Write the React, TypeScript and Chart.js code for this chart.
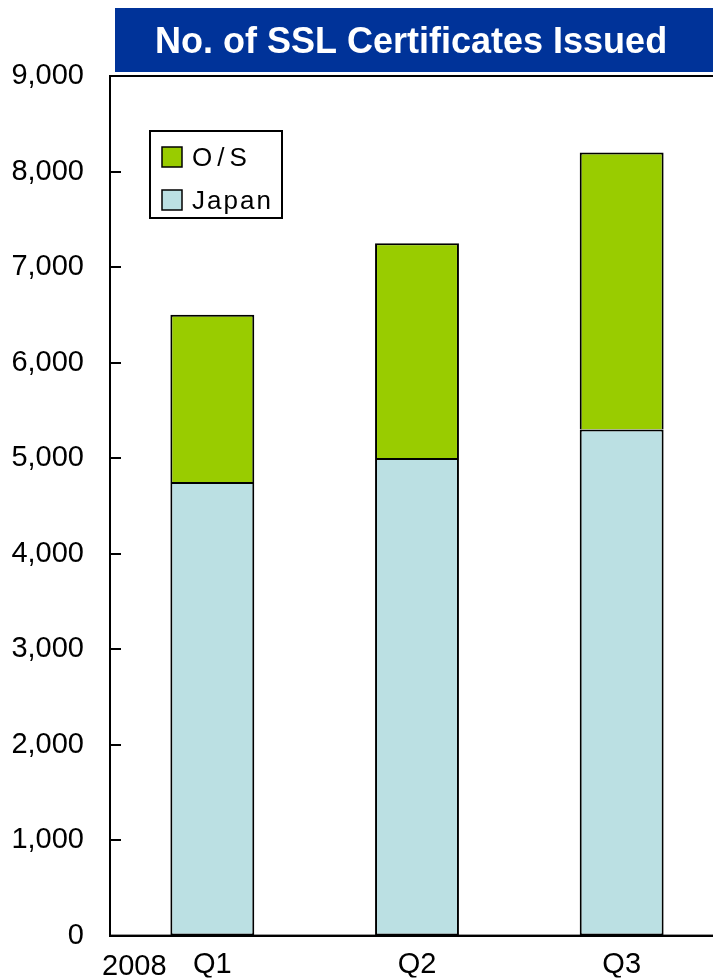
import React, { useEffect, useRef } from "react";
import { Chart, registerables } from "chart.js";

Chart.register(...registerables);

const categories = ["Q1", "Q2", "Q3"];
const japanValues = [4750, 5000, 5300];
const overseasValues = [1750, 2250, 2900];
const yTicks = [0, 1000, 2000, 3000, 4000, 5000, 6000, 7000, 8000, 9000];
const titleText = "No. of SSL Certificates Issued";
const yearLabel = "2008";
const seriesNames = ["O/S", "Japan"];

const GREEN = "#99CC00";
const BLUE = "#BBE0E3";
const NAVY = "#003399";
const FONT = "'Liberation Sans', Arial, sans-serif";

const decorPlugin = {
  id: "decor",
  afterDraw(chart: any) {
    const ctx = chart.ctx as CanvasRenderingContext2D;
    const area = chart.chartArea;
    const yScale = chart.scales.y;
    ctx.save();
    // frame
    ctx.strokeStyle = "#000";
    ctx.lineWidth = 2;
    ctx.strokeRect(area.left, area.top, area.right - area.left, area.bottom - area.top);
    // inner tick marks
    yTicks.forEach((v) => {
      const y = Math.round(yScale.getPixelForValue(v));
      ctx.beginPath();
      ctx.moveTo(area.left, y);
      ctx.lineTo(area.left + 11, y);
      ctx.stroke();
    });
    // title box
    ctx.fillStyle = NAVY;
    ctx.fillRect(115, 8, chart.width - 115, 64);
    ctx.fillStyle = "#fff";
    ctx.font = `bold 36px ${FONT}`;
    ctx.textAlign = "left";
    ctx.textBaseline = "alphabetic";
    ctx.fillText(titleText, 155, 53);
    // year label
    ctx.fillStyle = "#000";
    ctx.font = `29px ${FONT}`;
    ctx.fillText(yearLabel, 102, 975);
    // legend
    ctx.fillStyle = "#fff";
    ctx.fillRect(150, 131, 132, 87);
    ctx.strokeStyle = "#000";
    ctx.lineWidth = 2;
    ctx.strokeRect(150, 131, 132, 87);
    const items = [
      { name: seriesNames[0], color: GREEN, y: 147, spacing: "5px" },
      { name: seriesNames[1], color: BLUE, y: 190, spacing: "2px" },
    ];
    items.forEach((it) => {
      ctx.fillStyle = it.color;
      ctx.fillRect(162, it.y, 20, 20);
      ctx.lineWidth = 1.5;
      ctx.strokeStyle = "#000";
      ctx.strokeRect(162, it.y, 20, 20);
      ctx.fillStyle = "#000";
      ctx.font = `26px ${FONT}`;
      (ctx as any).letterSpacing = it.spacing;
      ctx.fillText(it.name, 192, it.y + 19);
      (ctx as any).letterSpacing = "0px";
    });
    ctx.restore();
  },
};

export default function App() {
  const ref = useRef<HTMLCanvasElement>(null);
  useEffect(() => {
    if (!ref.current) return;
    const chart = new Chart(ref.current, {
      type: "bar",
      data: {
        labels: categories,
        datasets: [
          {
            label: seriesNames[1],
            data: japanValues,
            backgroundColor: BLUE,
            borderColor: "#000",
            borderWidth: 2,
            borderSkipped: false,
            barPercentage: 0.41,
            categoryPercentage: 1,
          },
          {
            label: seriesNames[0],
            data: overseasValues,
            backgroundColor: GREEN,
            borderColor: "#000",
            borderWidth: 2,
            borderSkipped: "bottom",
            barPercentage: 0.41,
            categoryPercentage: 1,
          },
        ],
      },
      options: {
        animation: false,
        responsive: false,
        layout: { padding: { top: 76, left: 0, right: 0, bottom: 0 } },
        plugins: { legend: { display: false }, title: { display: false }, tooltip: { enabled: false } },
        scales: {
          x: {
            stacked: true,
            grid: { display: false, drawTicks: false },
            border: { display: true, color: "#000", width: 2 },
            ticks: { color: "#000", font: { family: FONT, size: 29 }, padding: 12 },
            afterFit: (s: any) => {
              s.height = 42;
            },
          },
          y: {
            stacked: true,
            min: 0,
            max: 9000,
            grid: { display: false, drawTicks: false },
            border: { display: true, color: "#000", width: 2 },
            ticks: {
              stepSize: 1000,
              color: "#000",
              font: { family: FONT, size: 29 },
              padding: 26,
              callback: (v: any) => Number(v).toLocaleString("en-US"),
            },
            afterFit: (s: any) => {
              s.width = 110;
            },
          },
        },
      },
      plugins: [decorPlugin],
    });
    return () => chart.destroy();
  }, []);
  return (
    <div style={{ position: "absolute", left: 0, top: 0, width: 713, height: 979, overflow: "hidden", background: "#fff" }}>
      <canvas ref={ref} width={724} height={979} style={{ width: 724, height: 979, display: "block" }} />
    </div>
  );
}
